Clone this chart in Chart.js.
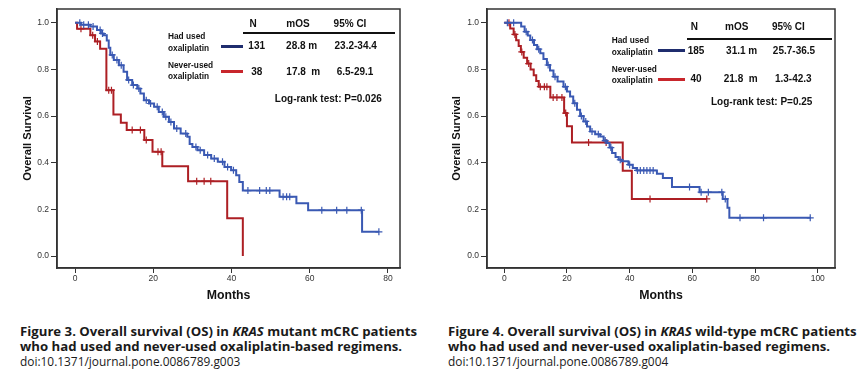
<!DOCTYPE html>
<html>
<head>
<meta charset="utf-8">
<script src="https://cdn.jsdelivr.net/npm/chart.js@4.4.1/dist/chart.umd.min.js"></script>
<style>
  body { margin: 0; background: #fff; }
  #page { position: relative; width: 858px; height: 370px; overflow: hidden; font-family: "Liberation Sans", Arial, sans-serif; }
  canvas { position: absolute; top: 0; }
  .t { position: absolute; white-space: nowrap; font-weight: bold; font-size: 10px; color: #111; transform: translate(-50%, -50%); line-height: 1; }
  .lab { position: absolute; white-space: nowrap; font-weight: bold; font-size: 8.3px; line-height: 11.5px; color: #111; }
  .rule { position: absolute; height: 2px; background: #111; }
  .key { position: absolute; height: 3px; }
  .cap { position: absolute; font-family: "Open Sans", sans-serif; font-size: 13.2px; color: #1a1a1a; white-space: nowrap; line-height: 15px; }
  .doi { font-size: 11.9px; }
</style>
</head>
<body>
<div id="page">
  <canvas id="mutant" width="420" height="310" style="left:0"></canvas>
  <canvas id="wild" width="428" height="310" style="left:430px"></canvas>

  <!-- table, figure 3 -->
  <div class="t" style="left:253px;top:24px">N</div>
  <div class="t" style="left:298px;top:24px">mOS</div>
  <div class="t" style="left:350px;top:24px">95% CI</div>
  <div class="rule" style="left:243px;top:32px;width:152px"></div>
  <div class="lab" style="left:168px;top:31px">Had used<br>oxaliplatin</div>
  <div class="key" style="left:221px;top:45px;width:22px;background:#1f2d6e"></div>
  <div class="t" style="left:256.7px;top:46px">131</div>
  <div class="t" style="left:301.7px;top:46px">28.8 m</div>
  <div class="t" style="left:355.7px;top:46px">23.2-34.4</div>
  <div class="lab" style="left:168px;top:59.5px">Never-used<br>oxaliplatin</div>
  <div class="key" style="left:221px;top:69.5px;width:22px;background:#c8262c"></div>
  <div class="t" style="left:256.7px;top:71.7px">38</div>
  <div class="t" style="left:303.3px;top:71.7px">17.8&nbsp; m</div>
  <div class="t" style="left:355px;top:71.7px">6.5-29.1</div>
  <div class="t" style="left:328.3px;top:99px">Log-rank test: P=0.026</div>

  <!-- table, figure 4 -->
  <div class="t" style="left:694.3px;top:26.7px">N</div>
  <div class="t" style="left:736.7px;top:26.7px">mOS</div>
  <div class="t" style="left:788.3px;top:26.7px">95% CI</div>
  <div class="rule" style="left:686.7px;top:37.5px;width:145px"></div>
  <div class="lab" style="left:611.7px;top:35px">Had used<br>oxaliplatin</div>
  <div class="key" style="left:658.3px;top:49.2px;width:26.7px;background:#1f2d6e"></div>
  <div class="t" style="left:696px;top:50.7px">185</div>
  <div class="t" style="left:741.7px;top:50.7px">31.1 m</div>
  <div class="t" style="left:794px;top:50.7px">25.7-36.5</div>
  <div class="lab" style="left:611.7px;top:63.5px">Never-used<br>oxaliplatin</div>
  <div class="key" style="left:658.3px;top:77.5px;width:26.7px;background:#c8262c"></div>
  <div class="t" style="left:696px;top:79px">40</div>
  <div class="t" style="left:740.7px;top:79px">21.8&nbsp; m</div>
  <div class="t" style="left:793.3px;top:79px">1.3-42.3</div>
  <div class="t" style="left:761.7px;top:101.7px">Log-rank test: P=0.25</div>

  <!-- captions -->
  <div class="cap" style="left:20px;top:324px"><b>Figure 3. Overall survival (OS) in <i>KRAS</i> mutant mCRC patients</b></div>
  <div class="cap" style="left:20px;top:339px"><b>who had used and never-used oxaliplatin-based regimens.</b></div>
  <div class="cap doi" style="left:20px;top:354px">doi:10.1371/journal.pone.0086789.g003</div>
  <div class="cap" style="left:448px;top:324px"><b>Figure 4. Overall survival (OS) in <i>KRAS</i> wild-type mCRC patients</b></div>
  <div class="cap" style="left:448px;top:339px"><b>who had used and never-used oxaliplatin-based regimens.</b></div>
  <div class="cap doi" style="left:448px;top:354px">doi:10.1371/journal.pone.0086789.g004</div>
</div>

<script>
// Figure 3, KRAS mutant: times (months) where survival steps down, and the new level
const mutUsedT = [0, 1.5, 3.9, 5.6, 6.6, 7.3, 8.1, 8.6, 9.0, 9.9, 11.2, 12.4, 13.3, 14.6, 15.9, 16.7, 17.6, 18.9, 20.2, 21.4, 22.7, 24.0, 25.3, 27.0, 28.7, 29.3, 30.0, 31.3, 33.0, 34.8, 36.5, 38.2, 39.9, 41.2, 42.0, 42.9, 52.3, 56.6, 59.6, 73.4, 77.7];
const mutUsedS = [1, 0.992, 0.984, 0.969, 0.954, 0.947, 0.924, 0.893, 0.862, 0.840, 0.818, 0.790, 0.755, 0.733, 0.718, 0.697, 0.668, 0.654, 0.640, 0.618, 0.597, 0.575, 0.547, 0.525, 0.511, 0.480, 0.468, 0.454, 0.433, 0.418, 0.404, 0.382, 0.368, 0.347, 0.318, 0.281, 0.254, 0.226, 0.197, 0.104, 0.104];
const mutUsedCens = [1.2, 2.2, 3.4, 4.6, 6.4, 7.0, 9.5, 10.7, 11.8, 13.7, 14.9, 16.3, 18.2, 19.3, 21.0, 22.3, 23.2, 24.5, 26.0, 28.3, 30.9, 32.0, 33.9, 35.6, 37.7, 39.0, 40.5, 44.2, 47.2, 48.9, 49.8, 53.2, 54.1, 54.9, 63.1, 66.9, 69.5, 73.2, 77.7];
const mutNeverT = [0, 0.5, 3.9, 5.1, 6.4, 8.0, 9.8, 11.7, 13.2, 17.7, 19.8, 22.3, 28.9, 38.9, 42.9];
const mutNeverS = [1, 0.974, 0.947, 0.920, 0.889, 0.711, 0.607, 0.571, 0.540, 0.498, 0.447, 0.385, 0.321, 0.162, 0];
const mutNeverCens = [1.5, 4.5, 5.7, 8.6, 9.3, 14.6, 16.7, 18.2, 21.2, 22.0, 31.1, 33.0, 34.7];

// Figure 4, KRAS wild-type
const wildUsedT = [0, 5.4, 6.5, 7.5, 8.3, 9.5, 10.5, 11.5, 12.5, 13.6, 14.6, 15.7, 17.0, 18.9, 20.0, 21.0, 22.0, 23.2, 24.2, 25.3, 26.4, 27.4, 29.0, 30.6, 31.7, 32.8, 33.6, 34.4, 35.5, 36.5, 37.5, 39.6, 41.0, 42.2, 48.7, 50.6, 53.5, 62.3, 69.7, 71.2, 71.8, 97.8];
const wildUsedS = [1, 0.984, 0.962, 0.945, 0.926, 0.905, 0.887, 0.869, 0.845, 0.819, 0.795, 0.769, 0.748, 0.726, 0.705, 0.684, 0.655, 0.627, 0.600, 0.577, 0.555, 0.534, 0.522, 0.513, 0.495, 0.485, 0.465, 0.442, 0.425, 0.413, 0.406, 0.392, 0.378, 0.367, 0.353, 0.335, 0.296, 0.274, 0.245, 0.207, 0.164, 0.164];
const wildUsedCens = [1.0, 3.0, 7.0, 9.0, 11.0, 14.0, 16.2, 19.5, 22.5, 24.6, 26.0, 28.0, 30.0, 32.2, 34.0, 37.0, 40.0, 42.5, 43.4, 44.5, 45.5, 46.5, 47.5, 59.1, 62.8, 65.1, 69.4, 70.5, 75.2, 82.7, 97.6];
const wildNeverT = [0, 1.9, 3.0, 3.8, 4.6, 5.3, 6.2, 7.3, 8.4, 9.4, 10.2, 11.0, 14.7, 19.1, 20.0, 21.6, 37.8, 40.7, 64.6];
const wildNeverS = [1, 0.975, 0.950, 0.925, 0.900, 0.875, 0.850, 0.825, 0.800, 0.775, 0.750, 0.726, 0.680, 0.613, 0.556, 0.487, 0.366, 0.245, 0.245];
const wildNeverCens = [1.5, 3.4, 5.6, 7.8, 11.5, 12.8, 13.6, 15.6, 16.8, 18.4, 19.6, 26.9, 32.5, 46.5, 64.6];

const yTicks = [0, 0.2, 0.4, 0.6, 0.8, 1.0];
const mutXTicks = [0, 20, 40, 60, 80];
const wildXTicks = [0, 20, 40, 60, 80, 100];

const BLUE = '#3a59b3';
const RED = '#ad1f24';
const FONT = '"Liberation Sans", Arial, sans-serif';

function steps(ts, ss) {
  return ts.map((t, i) => ({ x: t, y: ss[i] }));
}

// censor marks sit on the curve level at that time
function marks(cens, ts, ss) {
  return cens.map(c => {
    let y = ss[0];
    for (let i = 0; i < ts.length; i++) if (ts[i] <= c) y = ss[i];
    return { x: c, y };
  });
}

const framePlugin = {
  id: 'frame',
  afterDatasetsDraw(chart) {
    const { ctx, chartArea: a } = chart;
    ctx.save();
    ctx.strokeStyle = '#333';
    ctx.lineWidth = 1.5;
    ctx.strokeRect(a.left, a.top, a.right - a.left, a.bottom - a.top);
    ctx.restore();
  }
};

function kmChart(id, c) {
  const curve = (data, color) => ({ data, stepped: true, borderColor: color, borderWidth: 2, pointRadius: 0, fill: false });
  const cross = (data, color) => ({ data, showLine: false, pointStyle: 'cross', pointRadius: 3.5, borderColor: color, borderWidth: 1.2 });

  return new Chart(document.getElementById(id), {
    type: 'line',
    data: {
      datasets: [
        curve(steps(c.usedT, c.usedS), BLUE),
        cross(marks(c.usedCens, c.usedT, c.usedS), BLUE),
        curve(steps(c.neverT, c.neverS), RED),
        cross(marks(c.neverCens, c.neverT, c.neverS), RED)
      ]
    },
    options: {
      responsive: false,
      animation: false,
      devicePixelRatio: 1,
      layout: { padding: { top: 9, right: c.padRight, left: 0, bottom: 0 } },
      plugins: { legend: { display: false }, tooltip: { enabled: false } },
      scales: {
        x: {
          type: 'linear',
          min: c.xMin, max: c.xMax,
          afterBuildTicks: s => { s.ticks = c.xTicks.map(v => ({ value: v })); },
          afterFit: s => { s.height = 42; },
          grid: { display: true, drawOnChartArea: false, drawTicks: true, tickLength: 5, color: '#333', lineWidth: 1 },
          border: { display: true, color: '#333', width: 1.5 },
          ticks: { padding: 1, color: '#333', font: { family: FONT, size: 8.5 } },
          title: { display: true, text: 'Months', color: '#111', padding: { top: 0, bottom: 6.6 }, font: { family: FONT, size: 12.3, weight: 'bold' } }
        },
        y: {
          min: -0.051, max: 1.059,
          afterBuildTicks: s => { s.ticks = yTicks.map(v => ({ value: v })); },
          afterFit: s => { s.width = c.yWidth; },
          grid: { display: true, drawOnChartArea: false, drawTicks: true, tickLength: 6, color: '#333', lineWidth: 1 },
          border: { display: true, color: '#333', width: 1.5 },
          ticks: { padding: 2, color: '#333', font: { family: FONT, size: 8.5 }, callback: v => v.toFixed(1) },
          title: { display: true, text: 'Overall Survival', color: '#111', padding: { top: c.yTitlePad, bottom: 0 }, font: { family: FONT, size: 11.2, weight: 'bold' } }
        }
      }
    },
    plugins: [framePlugin]
  });
}

kmChart('mutant', {
  usedT: mutUsedT, usedS: mutUsedS, usedCens: mutUsedCens,
  neverT: mutNeverT, neverS: mutNeverS, neverCens: mutNeverCens,
  xTicks: mutXTicks, xMin: -4.63, xMax: 83.1,
  padRight: 20, yWidth: 57, yTitlePad: 21.3
});

kmChart('wild', {
  usedT: wildUsedT, usedS: wildUsedS, usedCens: wildUsedCens,
  neverT: wildNeverT, neverS: wildNeverS, neverCens: wildNeverCens,
  xTicks: wildXTicks, xMin: -5.5, xMax: 105.5,
  padRight: 23, yWidth: 57, yTitlePad: 20.3
});
</script>
</body>
</html>
